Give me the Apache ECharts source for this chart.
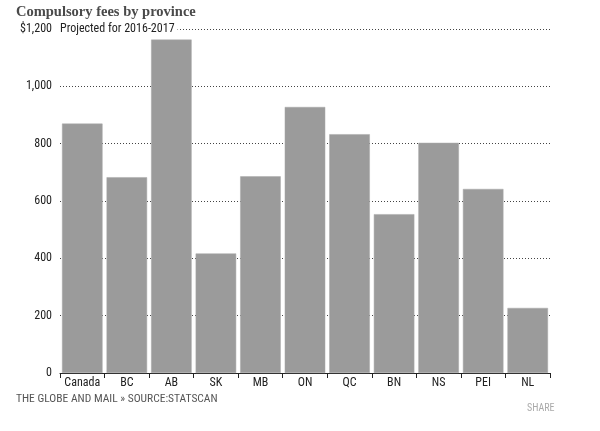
<!DOCTYPE html>
<html><head><meta charset="utf-8">
<script src="https://cdn.jsdelivr.net/npm/echarts@6/dist/echarts.min.js"></script>
<style>html,body{margin:0;padding:0;background:#fff}#c{width:600px;height:431px}</style>
</head><body><div id="c"></div>
<script>
const categories = ['Canada','BC','AB','SK','MB','ON','QC','BN','NS','PEI','NL'];
const fees = [870, 683, 1163, 417, 686, 928, 833, 554, 803, 642, 227];
const yTicks = {0:'0',200:'200',400:'400',600:'600',800:'800',1000:'1,000',1200:'$1,200'};
const FONT = '"Liberation Sans Narrow", "Roboto Condensed", "Open Sans", sans-serif';
const chart = echarts.init(document.getElementById('c'));
chart.setOption({
  animation:false,
  grid:{left:60,right:50,top:29,bottom:58,containLabel:false},
  title:{text:'Compulsory fees by province',left:16,top:5,padding:0,
    textStyle:{fontFamily:'"Liberation Serif", serif',fontWeight:'bold',fontSize:14.5,color:'#4a4a4a'}},
  graphic:[
    {type:'text',left:60,top:23,z:100,style:{text:'Projected for 2016-2017',font:'12px '+FONT,fill:'#222',backgroundColor:'#fff',padding:[0,3,0,0]}},
    {type:'text',left:16,top:393,style:{text:'THE GLOBE AND MAIL » SOURCE:STATSCAN',font:'11.5px '+FONT,fill:'#555'}},
    {type:'text',left:527,top:403,style:{text:'SHARE',font:'10px '+FONT,fill:'#aaa'}}
  ],
  xAxis:{type:'category',data:categories,
    axisLine:{lineStyle:{color:'#222',width:1}},
    axisTick:{show:true,length:5,interval:0,lineStyle:{color:'#222'},alignWithLabel:false},
    axisLabel:{color:'#222',fontFamily:FONT,fontSize:12,margin:4,interval:0}},
  yAxis:{type:'value',min:0,max:1200,interval:200,
    axisLine:{show:false},axisTick:{show:false},
    axisLabel:{color:'#222',fontFamily:FONT,fontSize:12,margin:8,formatter:v=>yTicks[v]},
    splitLine:{lineStyle:{color:'#444',type:[1,2],width:1}}},
  series:[{type:'bar',data:fees,barCategoryGap:'9%',
    itemStyle:{color:'#9b9b9b',borderColor:'#a8a8a8',borderWidth:0.5}}]
});
</script></body></html>
